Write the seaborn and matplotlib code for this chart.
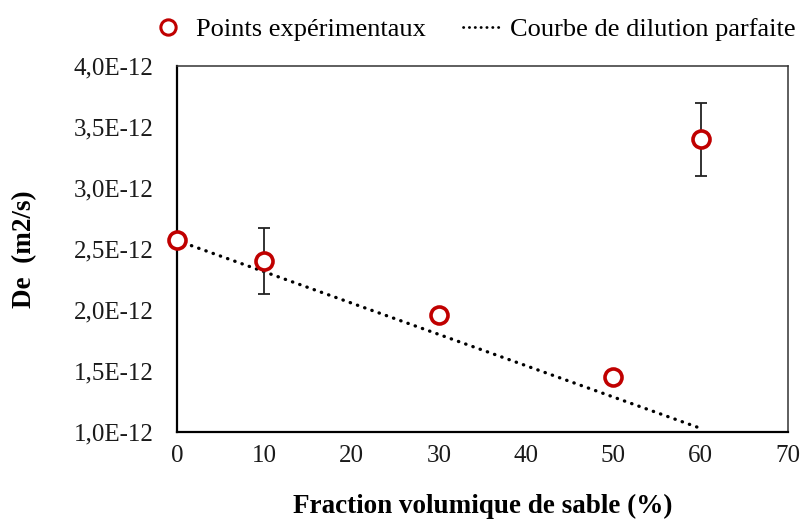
import matplotlib
matplotlib.use("Agg")
import matplotlib.pyplot as plt
import seaborn as sns
import pandas as pd
from matplotlib.lines import Line2D

# Sand volume fraction (%) and effective diffusion coefficient (x1e-12 m2/s)
fraction = [0, 10, 30, 50, 60]
de_values = [2.57, 2.40, 1.96, 1.45, 3.40]
de_errors = [0.0, 0.27, 0.0, 0.0, 0.30]

# Perfect dilution curve endpoints
dilution_fraction = [0, 60]
dilution_values = [2.57, 1.03]

y_ticks = [1.0, 1.5, 2.0, 2.5, 3.0, 3.5, 4.0]
x_ticks = [0, 10, 20, 30, 40, 50, 60, 70]

sns.set_theme(style="white")
plt.rcParams["font.family"] = ["Liberation Serif", "DejaVu Serif"]

points = pd.DataFrame({"fraction": fraction, "de": de_values, "err": de_errors})
curve = pd.DataFrame({"fraction": dilution_fraction, "de": dilution_values})

fig = plt.figure(figsize=(8.02, 5.25), dpi=100)
ax = fig.add_axes([0.2207, 0.1771, 0.7618, 0.6972])

red = "#C00000"

sns.lineplot(data=curve, x="fraction", y="de", ax=ax, color="black",
             linewidth=2.4, linestyle=(0, (0.1, 2.2)), dash_capstyle="round",
             legend=False, zorder=2)
ax.lines[-1].set_dash_capstyle("round")

for xv, yv, ev in zip(fraction, de_values, de_errors):
    if ev > 0:
        ax.errorbar(xv, yv, yerr=ev, fmt="none", ecolor="#222222",
                    elinewidth=1.3, capsize=4, capthick=1.3, zorder=3)

sns.scatterplot(data=points, x="fraction", y="de", ax=ax, s=150,
                facecolor="white", edgecolor=red, linewidth=2.6,
                legend=False, zorder=4, clip_on=False)

ax.set_xlim(0, 70)
ax.set_ylim(1.0, 4.0)
ax.set_xticks(x_ticks)
ax.set_yticks(y_ticks)
ax.set_xticklabels([str(v) for v in x_ticks])
ax.set_yticklabels([f"{v:.1f}".replace(".", ",") + "E-12" for v in y_ticks])

ax.tick_params(axis="both", direction="in", length=7, width=1.0,
               color="#555555", labelsize=18, labelcolor="#1a1a1a")
ax.tick_params(axis="y", pad=17)
ax.tick_params(axis="x", pad=9)

for side in ["left", "bottom"]:
    ax.spines[side].set_color("black")
    ax.spines[side].set_linewidth(1.6)
for side in ["top", "right"]:
    ax.spines[side].set_color("#333333")
    ax.spines[side].set_linewidth(1.1)

ax.set_xlabel("Fraction volumique de sable (%)", fontsize=19.5,
              fontweight="bold", labelpad=20, color="black")
ax.set_ylabel("De  (m2/s)", fontsize=19.5, fontweight="bold", labelpad=26,
              color="black")

handles = [
    Line2D([], [], linestyle="none", marker="o", markersize=11,
           markerfacecolor="white", markeredgecolor=red, markeredgewidth=2.2),
    Line2D([], [], color="black", linewidth=2.0, linestyle=(0, (0.1, 2.0)),
           dash_capstyle="round"),
]
fig.legend(handles, ["Points expérimentaux", "Courbe de dilution parfaite"],
           loc="upper right", bbox_to_anchor=(1.022, 1.012), ncol=2,
           frameon=False, fontsize=19, handlelength=1.5, handletextpad=0.3,
           columnspacing=1.4, labelcolor="black")

fig.savefig("out.png", dpi=100)
